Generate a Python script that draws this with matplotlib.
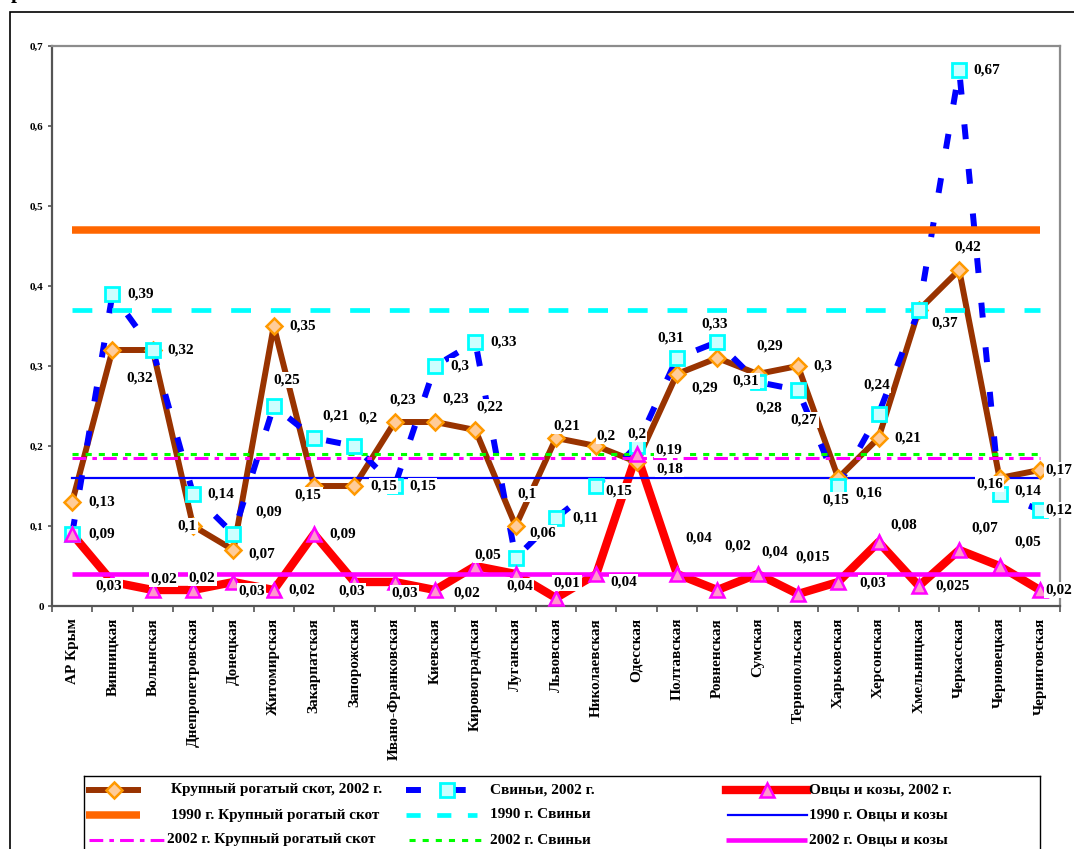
import numpy as np
import matplotlib
matplotlib.use("Agg")
import matplotlib.pyplot as plt
from matplotlib.patches import Rectangle

plt.rcParams['font.family'] = ['Liberation Serif', 'DejaVu Serif']
plt.rcParams['font.weight'] = 'bold'

# данные
regions = ['АР Крым', 'Винницкая', 'Волынская', 'Днепропетровская', 'Донецкая',
           'Житомирская', 'Закарпатская', 'Запорожская', 'Ивано-Франковская',
           'Киевская', 'Кировоградская', 'Луганская', 'Львовская', 'Николаевская',
           'Одесская', 'Полтавская', 'Ровненская', 'Сумская', 'Тернопольская',
           'Харьковская', 'Херсонская', 'Хмельницкая', 'Черкасская',
           'Черновецкая', 'Черниговская']
cattle_2002 = [0.13, 0.32, 0.32, 0.1, 0.07, 0.35, 0.15, 0.15, 0.23, 0.23, 0.22, 0.1, 0.21,
               0.2, 0.18, 0.29, 0.31, 0.29, 0.3, 0.16, 0.21, 0.37, 0.42, 0.16, 0.17]
pigs_2002 = [0.09, 0.39, 0.32, 0.14, 0.09, 0.25, 0.21, 0.2, 0.15, 0.3, 0.33, 0.06, 0.11,
             0.15, 0.2, 0.31, 0.33, 0.28, 0.27, 0.15, 0.24, 0.37, 0.67, 0.14, 0.12]
sheep_2002 = [0.09, 0.03, 0.02, 0.02, 0.03, 0.02, 0.09, 0.03, 0.03, 0.02, 0.05, 0.04, 0.01,
              0.04, 0.19, 0.04, 0.02, 0.04, 0.015, 0.03, 0.08, 0.025, 0.07, 0.05, 0.02]
# средние по Украине
avg_1990 = [0.47, 0.37, 0.16]     # КРС, свиньи, овцы
avg_2002 = [0.185, 0.19, 0.04]
yticks = [0, 0.1, 0.2, 0.3, 0.4, 0.5, 0.6, 0.7]

# смещения подписей (пиксели, вправо / вниз)
cattle_off = [(30, 0), (27, 28), (28, 0), (-6, 0), (28, 4), (29, 0), (-6, 9), (29, 0), (8, -22),
              (21, -23), (14, -23), (11, -32), (11, -12), (10, -10), (33, 7), (28, 14), (28, 23),
              (12, -28), (25, 0), (31, 15), (29, 0), (26, 13), (9, -23), (-10, 6), (19, 0)]
pigs_off = [(30, 0), (28, 0), (28, 0), (28, 0), (35, -22), (13, -26), (22, -22), (14, -28), (28, 0),
            (25, 0), (28, 0), (27, -25), (29, 0), (22, 5), (0, -12), (-6, -20), (-3, -18), (11, 26),
            (6, 30), (-2, 14), (-2, -29), (26, 13), (28, 0), (28, -3), (19, 0)]
sheep_off = [(30, 0), (-4, 4), (11, -11), (9, -12), (18, 9), (28, 0), (29, 0), (-3, 9), (10, 11),
             (32, 3), (12, -11), (4, 12), (11, -15), (27, 8), (32, -4), (22, -36), (20, -44),
             (17, -22), (15, -37), (34, 1), (25, -17), (34, 0), (26, -22), (28, -24), (19, 0)]

W, H = 1074, 849
fig = plt.figure(figsize=(W / 100, H / 100), dpi=100)

# внешняя рамка и обрезанная буква сверху
fig.add_artist(Rectangle((10 / W, -0.1), 1.2, 1.1 - 12 / H, transform=fig.transFigure,
                         fill=False, ec='black', lw=1.2, clip_on=False))
fig.text(11 / W, 1 + 2 / H, 'р', fontsize=15, va='baseline', ha='left')

ax = fig.add_axes([52 / W, 1 - 606 / H, (1060 - 52) / W, (606 - 46) / H])
x = np.arange(len(regions))
ax.set_xlim(-0.5, len(regions) - 0.5)
ax.set_ylim(0, 0.7)

# линии серий
ax.plot(x, cattle_2002, color='#993300', lw=4.3, zorder=2.0, solid_capstyle='butt')
ax.plot(x, pigs_2002, color='#0000FF', lw=4.3, dashes=(2.5, 5), zorder=2.1, dash_capstyle='butt')
ax.plot(x, sheep_2002, color='#FF0000', lw=6, zorder=2.2)

# горизонтальные уровни
ax.plot(x, [avg_1990[0]] * len(x), color='#FF6600', lw=5.4, zorder=2.3, solid_capstyle='butt')
ax.plot(x, [avg_1990[1]] * len(x), color='#00FFFF', lw=3.4, dashes=(4.2, 4.2), zorder=2.4,
        dash_capstyle='butt')
ax.plot(x, [avg_1990[2]] * len(x), color='#0000FF', lw=1.6, zorder=2.5)
ax.plot(x, [avg_2002[0]] * len(x), color='#FF00FF', lw=2.2, dashes=(4.5, 2, 1.5, 2), zorder=2.6,
        dash_capstyle='butt')
ax.plot(x, [avg_2002[1]] * len(x), color='#00FF00', lw=2.2, dashes=(2, 2.3), zorder=2.7,
        dash_capstyle='butt')
ax.plot(x, [avg_2002[2]] * len(x), color='#FF00FF', lw=3.3, zorder=2.8, solid_capstyle='butt')

# маркеры поверх линий
ax.plot(x, cattle_2002, ls='none', marker='D', ms=8, mfc='#FFCC99', mec='#FF9900', mew=1.8, zorder=3.0)
ax.plot(x, pigs_2002, ls='none', marker='s', ms=10, mfc='#CCFFFF', mec='#00FFFF', mew=2, zorder=3.1)
ax.plot(x, sheep_2002, ls='none', marker='^', ms=10, mfc='#FF99CC', mec='#FF00FF', mew=1.8, zorder=3.2)


def fmt(v):
    return ('%g' % v).replace('.', ',')


for vals, offs, z in [(cattle_2002, cattle_off, 4.0), (pigs_2002, pigs_off, 4.1),
                      (sheep_2002, sheep_off, 4.2)]:
    for xi, v, (dx, dy) in zip(x, vals, offs):
        ax.annotate(fmt(v), (xi, v), xytext=(dx, -dy), textcoords='offset pixels',
                    ha='center', va='center', fontsize=11, fontweight='bold', zorder=z,
                    annotation_clip=False,
                    bbox=dict(boxstyle='square,pad=0.08', fc='white', ec='none'))

# оси
ax.set_yticks(yticks)
ax.set_yticklabels([fmt(t) for t in yticks], fontsize=8, fontweight='bold')
ax.tick_params(axis='y', direction='out', length=3, width=1.2, color='#555555', pad=3)
ax.set_xticks(np.arange(-0.5, len(regions), 1))
ax.set_xticklabels([])
ax.set_xticks(x, minor=True)
ax.set_xticklabels(regions, minor=True, rotation=90, fontsize=11, fontweight='bold', va='top')
ax.tick_params(axis='x', which='major', direction='out', length=4.5, width=1.2, color='#555555')
ax.tick_params(axis='x', which='minor', length=0, pad=8.5)
for s in ['left', 'bottom']:
    ax.spines[s].set_color('#555555')
    ax.spines[s].set_linewidth(1.6)
for s in ['top', 'right']:
    ax.spines[s].set_color('#8c8c8c')
    ax.spines[s].set_linewidth(1.6)

# легенда
lax = fig.add_axes([84 / W, 0, (1040 - 84) / W, (H - 776) / H])
lax.set_xlim(84, 1040)
lax.set_ylim(H, 776)
lax.set_xticks([])
lax.set_yticks([])
lax.spines['bottom'].set_visible(False)
for s in ['top', 'left', 'right']:
    lax.spines[s].set_linewidth(1.0)

r1, r2, r3 = 790, 815, 840
lax.plot([86, 141], [r1, r1], color='#993300', lw=4.3, solid_capstyle='butt')
lax.plot([114], [r1], marker='D', ms=8, mfc='#FFCC99', mec='#FF9900', mew=1.8)
lax.plot([406, 466], [r1, r1], color='#0000FF', lw=4.3, dashes=(2.5, 5), dash_capstyle='butt')
lax.plot([447], [r1], marker='s', ms=10, mfc='#CCFFFF', mec='#00FFFF', mew=2)
lax.plot([726, 807], [r1, r1], color='#FF0000', lw=6)
lax.plot([767], [r1], marker='^', ms=10, mfc='#FF99CC', mec='#FF00FF', mew=1.8)
lax.plot([86, 140], [r2, r2], color='#FF6600', lw=5.4, solid_capstyle='butt')
lax.plot([406, 477], [r2, r2], color='#00FFFF', lw=3.4, dashes=(3, 3.5), dash_capstyle='butt')
lax.plot([728, 807], [r2, r2], color='#0000FF', lw=1.6)
lax.plot([89, 166], [r3, r3], color='#FF00FF', lw=2.2, dashes=(4.5, 2, 1.5, 2), dash_capstyle='butt')
lax.plot([409, 487], [r3, r3], color='#00FF00', lw=2.2, dashes=(2, 2.3), dash_capstyle='butt')
lax.plot([726, 807], [r3, r3], color='#FF00FF', lw=3.3, solid_capstyle='butt')

leg_text = [(171, r1, 'Крупный рогатый скот, 2002 г.'), (490, r1, 'Свиньи, 2002 г.'),
            (809, r1, 'Овцы и козы, 2002 г.'),
            (171, r2, '1990 г. Крупный рогатый скот'), (490, r2, '1990 г. Свиньи'),
            (809, r2, '1990 г. Овцы и козы'),
            (167, r3, '2002 г. Крупный рогатый скот'), (490, r3, '2002 г. Свиньи'),
            (809, r3, '2002 г. Овцы и козы')]
for tx, ty, t in leg_text:
    lax.text(tx, ty, t, ha='left', va='center', fontsize=11, fontweight='bold')

fig.savefig('out.png', dpi=100)
